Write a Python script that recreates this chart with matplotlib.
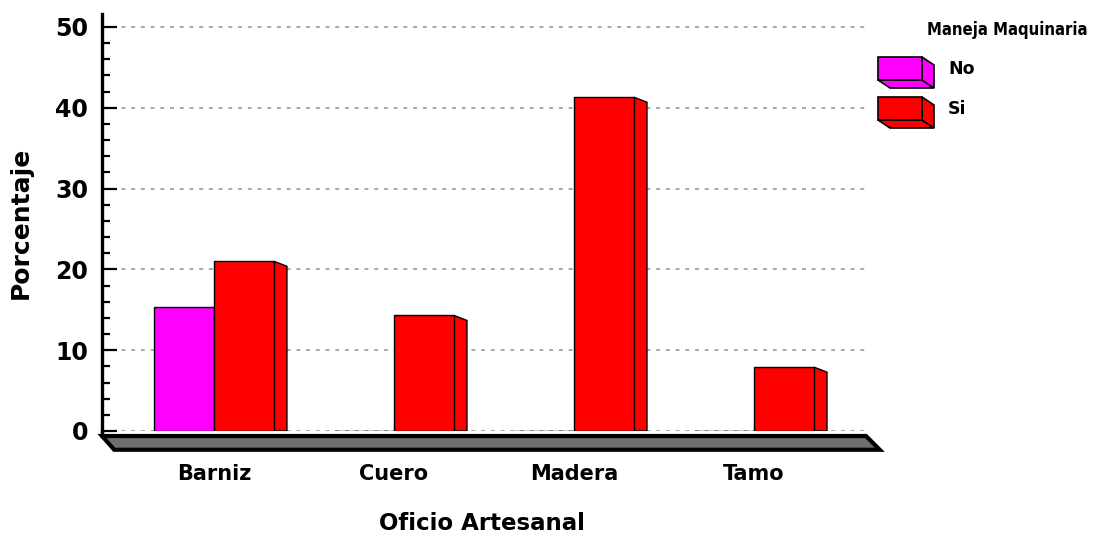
import numpy as np
import matplotlib
matplotlib.use("Agg")
import matplotlib.pyplot as plt
from matplotlib.patches import Polygon

# data
categories = ["Barniz", "Cuero", "Madera", "Tamo"]
no_vals = [15.4, 0.0, 0.0, 0.0]
si_vals = [21.0, 14.3, 41.3, 7.9]
series = ["No", "Si"]
colors = ["#FF00FF", "#FF0000"]

plt.rcParams.update({"font.family": "DejaVu Sans", "font.weight": "bold"})

W, H = 1115, 536
fig = plt.figure(figsize=(W / 100, H / 100), dpi=100)
# axes placed in pixels: left 102, right 866, baseline 431, top 14
ax = fig.add_axes([102 / W, (H - 431) / H, 764 / W, 417 / H])

x = np.arange(len(categories))
w = 1 / 3
ax.set_xlim(-0.622, 3.622)
ax.set_ylim(0, 51.6)

ax.bar(x - w / 2, no_vals, w, color=colors[0], edgecolor="black", lw=1, zorder=3)
ax.bar(x + w / 2, si_vals, w, color=colors[1], edgecolor="black", lw=1, zorder=3)

# 3D side faces of the front (Si) bars
dx, dy = 0.072, 0.62
for xi, h in zip(x, si_vals):
    x1 = xi + w
    ax.add_patch(Polygon([(x1, 0), (x1, h), (x1 + dx, h - dy), (x1 + dx, 0)],
                         closed=True, fc=colors[1], ec="black", lw=1, zorder=2))

ax.set_yticks(np.arange(0, 51, 10))
ax.set_yticks(np.arange(0, 51, 2), minor=True)
ax.yaxis.grid(True, which="major", color="#a8a8a8", ls=(0, (2, 3)), lw=1.4, zorder=0)
ax.tick_params(axis="y", which="major", direction="in", length=11, width=1.6,
               labelsize=17, pad=10)
ax.tick_params(axis="y", which="minor", direction="in", length=5.5, width=1.6)
ax.set_xticks(x)
ax.set_xticklabels(categories, fontsize=15, fontweight="bold")
ax.tick_params(axis="x", length=0, pad=24)
for s in ["top", "right", "bottom"]:
    ax.spines[s].set_visible(False)
ax.spines["left"].set_linewidth(2.4)

ax.set_ylabel("Porcentaje", fontsize=18, fontweight="bold", labelpad=16)
ax.set_xlabel("Oficio Artesanal", fontsize=16.5, fontweight="bold")
ax.xaxis.set_label_coords((482 - 102) / 764, -(512 - 431) / 417)

# floor slab under the axis
ax.plot([0, 0], [0, -0.012], transform=ax.transAxes, color="black", lw=2.4, clip_on=False)
floor = Polygon([(0, -0.012), (1.0, -0.012), (1.018, -0.045), (0.016, -0.045)],
                closed=True, transform=ax.transAxes, fc="#6e6e6e", ec="black",
                lw=3, clip_on=False, zorder=4)
ax.add_patch(floor)

# legend drawn by hand (3D boxes)
def px(xp, yp):
    return (xp / W, 1 - yp / H)

fig.text(*px(1007, 30), "Maneja Maquinaria", ha="center", va="center",
         fontsize=12, fontweight="bold", fontstretch="condensed")
for i, (lab, col) in enumerate(zip(series, colors)):
    y0 = 57 + i * 40
    front = [px(878, y0), px(922, y0), px(922, y0 + 23), px(878, y0 + 23)]
    side = [px(922, y0), px(934, y0 + 8), px(934, y0 + 31), px(922, y0 + 23)]
    bottom = [px(878, y0 + 23), px(922, y0 + 23), px(934, y0 + 31), px(890, y0 + 31)]
    for pts in (bottom, side, front):
        fig.patches.append(Polygon(pts, closed=True, fc=col, ec="black", lw=1.2,
                                   transform=fig.transFigure, figure=fig))
    fig.text(*px(948, y0 + 12), lab, ha="left", va="center", fontsize=12.5,
             fontweight="bold")

fig.savefig("out.png", dpi=100)
